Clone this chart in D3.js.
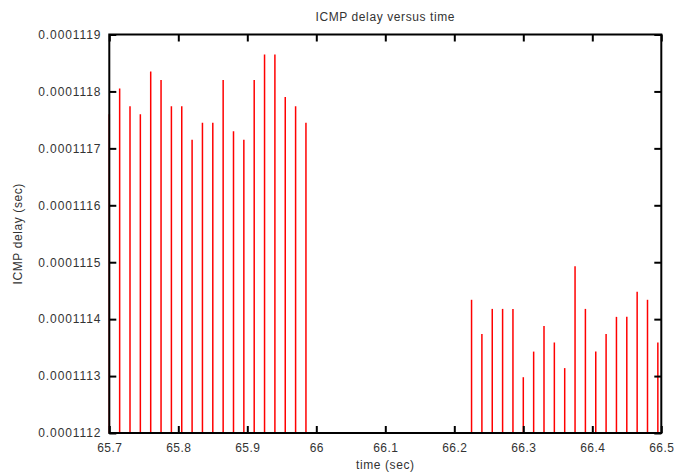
<html lang="en">
<head>
  <meta charset="UTF-8">
  <title>ICMP delay versus time</title>
  <script src="https://d3js.org/d3.v7.min.js"></script>
  <style>
    body { margin: 0; background: #fff; }
    text { font-family: "Liberation Sans", Arial, sans-serif; fill: #222; }
  </style>
</head>
<body>
<div id="chart"></div>
<script>

// packet send times (sec), first burst and second burst
const times1 = [65.700, 65.715, 65.730, 65.745, 65.760, 65.775, 65.790, 65.805, 65.820, 65.835,
                65.850, 65.865, 65.880, 65.895, 65.910, 65.925, 65.940, 65.955, 65.970, 65.985];
const delays1 = [0.00011176, 0.000111805, 0.000111774, 0.00011176, 0.000111835, 0.00011182, 0.000111774, 0.000111774, 0.000111715, 0.000111745,
                 0.000111745, 0.00011182, 0.00011173, 0.000111715, 0.00011182, 0.000111865, 0.000111865, 0.00011179, 0.000111774, 0.000111745];

const times2 = [66.225, 66.240, 66.255, 66.270, 66.285, 66.300, 66.315, 66.330, 66.345, 66.360,
                66.375, 66.390, 66.405, 66.420, 66.435, 66.450, 66.465, 66.480, 66.495];
const delays2 = [0.000111434, 0.000111374, 0.000111418, 0.000111418, 0.000111418, 0.000111298, 0.000111343, 0.000111388, 0.000111359, 0.000111314,
                 0.000111493, 0.000111418, 0.000111343, 0.000111374, 0.000111404, 0.000111404, 0.000111448, 0.000111434, 0.000111359];

const xTicks = [65.7, 65.8, 65.9, 66, 66.1, 66.2, 66.3, 66.4, 66.5];
const yTicks = [0.0001112, 0.0001113, 0.0001114, 0.0001115, 0.0001116, 0.0001117, 0.0001118, 0.0001119];
const yLabels = ["0.0001112", "0.0001113", "0.0001114", "0.0001115", "0.0001116", "0.0001117", "0.0001118", "0.0001119"];

const points = times1.map((t, i) => ({t: t, d: delays1[i]}))
  .concat(times2.map((t, i) => ({t: t, d: delays2[i]})));

const mLeft = 109.3, mTop = 34.5, w = 552, h = 398.5;

const svg = d3.select("#chart")
  .append("svg")
  .attr("width", 674)
  .attr("height", 472);

const g = svg.append("g")
  .attr("transform", `translate(${mLeft}, ${mTop})`);

const x_scale = d3.scaleLinear()
  .domain([65.7, 66.5])
  .range([0, w]);

const y_scale = d3.scaleLinear()
  .domain([0.0001112, 0.0001119])
  .range([h, 0]);

// impulses
g.append("g")
  .selectAll("line")
  .data(points)
  .enter()
  .append("line")
    .attr("x1", d => x_scale(d.t))
    .attr("x2", d => x_scale(d.t))
    .attr("y1", h)
    .attr("y2", d => y_scale(d.d))
    .style("stroke", "#ff0000")
    .style("stroke-width", 1.5);

// axes, ticks pointing inward on all four sides
const fmtY = (d, i) => yLabels[i];

const xb = g.append("g")
  .attr("transform", `translate(0, ${h})`)
  .call(d3.axisBottom(x_scale).tickValues(xTicks).tickSize(-7).tickPadding(10).tickFormat(d3.format("")));
const xt = g.append("g")
  .call(d3.axisTop(x_scale).tickValues(xTicks).tickSize(-7).tickFormat(""));
const yl = g.append("g")
  .call(d3.axisLeft(y_scale).tickValues(yTicks).tickSize(-7).tickPadding(8).tickFormat(fmtY));
const yr = g.append("g")
  .attr("transform", `translate(${w}, 0)`)
  .call(d3.axisRight(y_scale).tickValues(yTicks).tickSize(-7).tickFormat(""));

[xb, xt, yl, yr].forEach(a => {
  a.select(".domain").remove();
  a.selectAll("line").style("stroke", "#000").style("stroke-width", 2);
  a.selectAll("text")
    .style("font-size", "12px")
    .style("letter-spacing", "0.5px")
    .style("font-family", "'Liberation Sans', Arial, sans-serif")
    .style("fill", "#333");
});
yl.selectAll("text").style("letter-spacing", "0.9px");

g.append("rect")
  .attr("width", w)
  .attr("height", h)
  .style("fill", "none")
  .style("stroke", "#000")
  .style("stroke-width", 2);

// titles
svg.append("text")
  .attr("x", mLeft + w / 2)
  .attr("y", 21)
  .attr("text-anchor", "middle")
  .style("font-size", "12px")
  .style("letter-spacing", "0.6px")
  .style("fill", "#333")
  .text("ICMP delay versus time");

svg.append("text")
  .attr("x", mLeft + w / 2)
  .attr("y", 469)
  .attr("text-anchor", "middle")
  .style("font-size", "12px")
  .style("letter-spacing", "0.6px")
  .style("fill", "#333")
  .text("time (sec)");

svg.append("text")
  .attr("transform", `translate(22, ${mTop + h / 2}) rotate(-90)`)
  .attr("text-anchor", "middle")
  .style("font-size", "12px")
  .style("letter-spacing", "0.6px")
  .style("fill", "#333")
  .text("ICMP delay (sec)");

</script>
</body>
</html>
